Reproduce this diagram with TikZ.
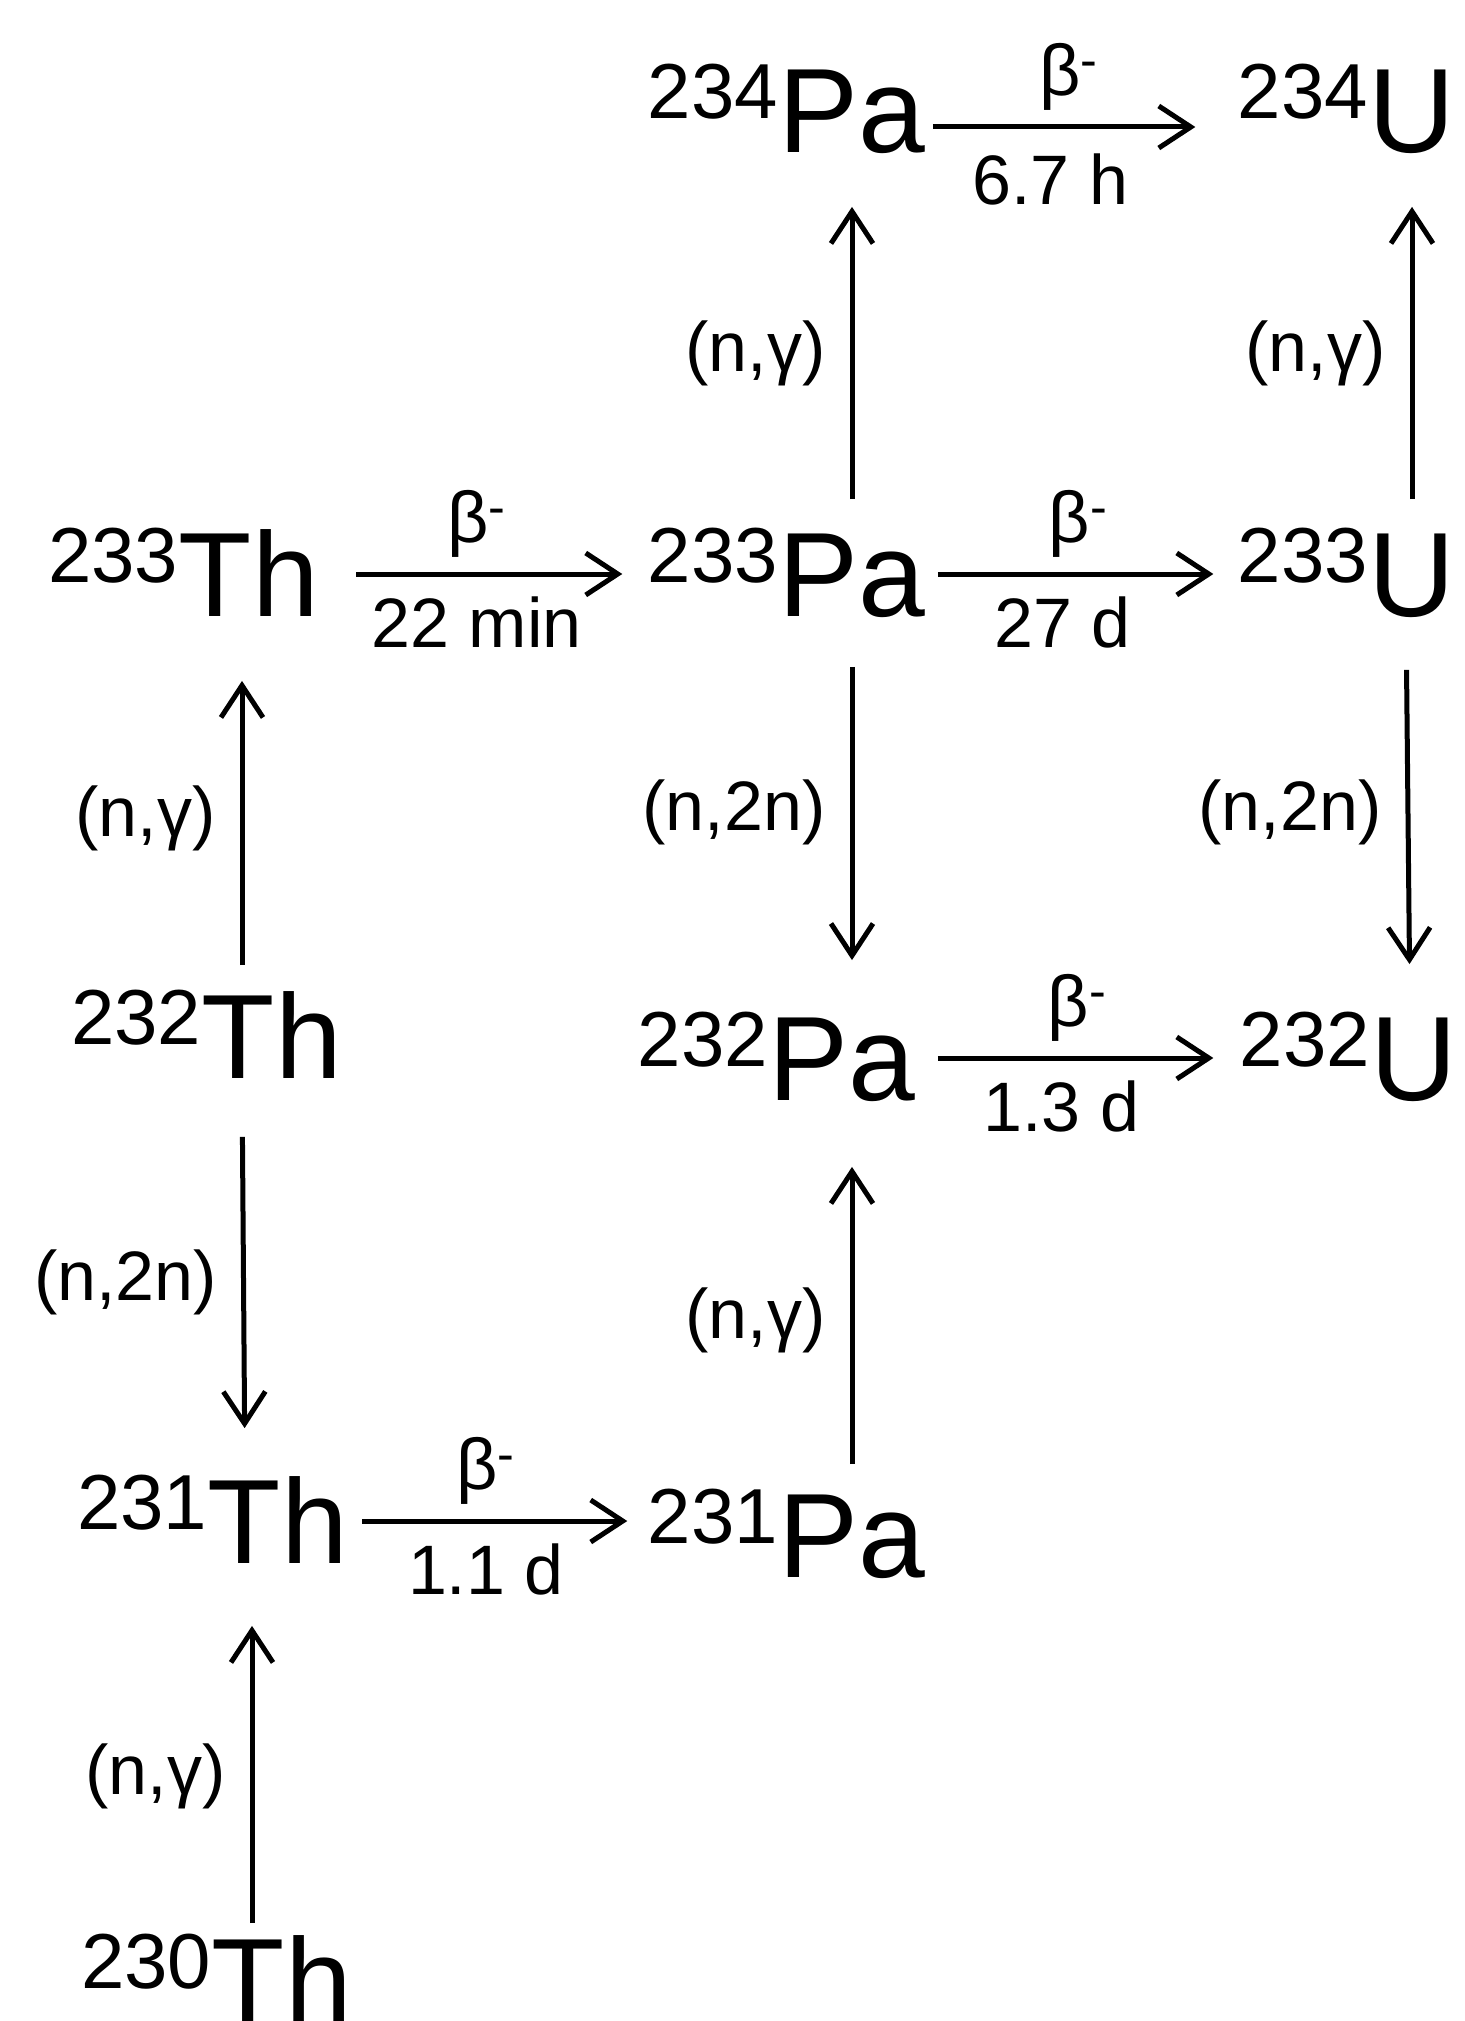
\documentclass[tikz,border=0pt]{standalone}
\usepackage{fontspec}
\setmainfont{Liberation Sans}
\usetikzlibrary{arrows.meta}

\begin{document}
\begin{tikzpicture}[x=0.5pt,y=-0.5pt,
  elem/.style={inner sep=0pt,font=\fontsize{60}{60}\selectfont,text height=42.5pt,text depth=0pt},
  mass/.style={inner sep=0pt,font=\fontsize{39}{39}\selectfont,anchor=base east},
  lbl/.style={inner sep=0pt,font=\fontsize{35}{35}\selectfont},
  beta/.style={inner sep=0pt,font=\fontsize{36}{36}\selectfont},
  decay/.style={line width=2.5pt,-{Straight Barb[length=16pt,width=21pt]}}]
\useasboundingbox (0,0) rectangle (1464,2021);
% nuclides
\node[elem] (pa234) at (852,110) {Pa};
\node[mass] (pa234m) at ([yshift=17pt]pa234.base west) {234};
\node[elem] (u234) at (1412,110) {U};
\node[mass] (u234m) at ([yshift=17pt]u234.base west) {234};
\node[elem] (th233) at (249,574) {Th};
\node[mass] (th233m) at ([yshift=17pt]th233.base west) {233};
\node[elem] (pa233) at (852,574) {Pa};
\node[mass] (pa233m) at ([yshift=17pt]pa233.base west) {233};
\node[elem] (u233) at (1412,574) {U};
\node[mass] (u233m) at ([yshift=17pt]u233.base west) {233};
\node[elem] (th232) at (272,1036) {Th};
\node[mass] (th232m) at ([yshift=17pt]th232.base west) {232};
\node[elem] (pa232) at (842,1058) {Pa};
\node[mass] (pa232m) at ([yshift=17pt]pa232.base west) {232};
\node[elem] (u232) at (1414,1058) {U};
\node[mass] (u232m) at ([yshift=17pt]u232.base west) {232};
\node[elem] (th231) at (278,1521) {Th};
\node[mass] (th231m) at ([yshift=17pt]th231.base west) {231};
\node[elem] (pa231) at (852,1535) {Pa};
\node[mass] (pa231m) at ([yshift=17pt]pa231.base west) {231};
\node[elem] (th230) at (282,1980) {Th};
\node[mass] (th230m) at ([yshift=17pt]th230.base west) {230};
% beta decays
\draw[decay,shorten <=3.5pt,shorten >=21pt] ([yshift=-8.5pt]pa234.east) -- node[beta,pos=0.46,above=7pt]{β\textsuperscript{-}} node[lbl,pos=0.40,below=12pt]{6.7 h} ([yshift=-8.5pt]pa234.east -| u234m.west);
\draw[decay,shorten <=18.5pt,shorten >=12.5pt] (th233.east) -- node[beta,pos=0.48,above=7pt]{β\textsuperscript{-}} node[lbl,pos=0.48,below=10pt]{22 min} (th233.east -| pa233m.west);
\draw[decay,shorten <=6pt,shorten >=12pt] (pa233.east) -- node[beta,pos=0.49,above=7pt]{β\textsuperscript{-}} node[lbl,pos=0.44,below=10pt]{27 d} (pa233.east -| u233m.west);
\draw[decay,shorten <=11pt,shorten >=13pt] (pa232.east) -- node[beta,pos=0.50,above=7pt]{β\textsuperscript{-}} node[lbl,pos=0.45,below=10pt]{1.3 d} (pa232.east -| u232m.west);
\draw[decay,shorten <=7pt,shorten >=10pt] (th231.east) -- node[beta,pos=0.46,above=7pt]{β\textsuperscript{-}} node[lbl,pos=0.46,below=10pt]{1.1 d} (th231.east -| pa231m.west);
% neutron reactions
\draw[decay,shorten <=16pt,shorten >=27pt] (pa233.north) -- node[lbl,pos=0.47,left=12pt]{(n,γ)} (pa234.south);
\draw[decay,shorten <=16pt,shorten >=27pt] (u233.north) -- node[lbl,pos=0.47,left=12pt]{(n,γ)} (u234.south);
\draw[decay,shorten <=25pt,shorten >=27.5pt] (pa233.south) -- node[lbl,pos=0.49,left=12pt]{(n,2n)} ([xshift=5pt]pa232.north);
\draw[decay,shorten <=26.5pt,shorten >=25.5pt] ([xshift=-3pt]u233.south) -- node[lbl,pos=0.49,left=12pt]{(n,2n)} ([xshift=-2pt]u232.north);
\draw[decay,shorten <=14pt,shorten >=32pt] ([xshift=-15pt]th232.north) -- node[lbl,pos=0.465,left=12pt]{(n,γ)} ([xshift=-3.5pt]th233.south);
\draw[decay,shorten <=29pt,shorten >=25pt] ([xshift=-15pt]th232.south) -- node[lbl,pos=0.51,left=12pt]{(n,2n)} ([xshift=-16.5pt]th231.north);
\draw[decay,shorten <=14pt,shorten >=33pt] (pa231.north) -- node[lbl,pos=0.44,left=12pt]{(n,γ)} ([xshift=5pt]pa232.south);
\draw[decay,shorten <=7pt,shorten >=31pt] ([xshift=-15pt]th230.north) -- node[lbl,pos=0.43,left=12pt]{(n,γ)} ([xshift=-13pt]th231.south);
\end{tikzpicture}
\end{document}
